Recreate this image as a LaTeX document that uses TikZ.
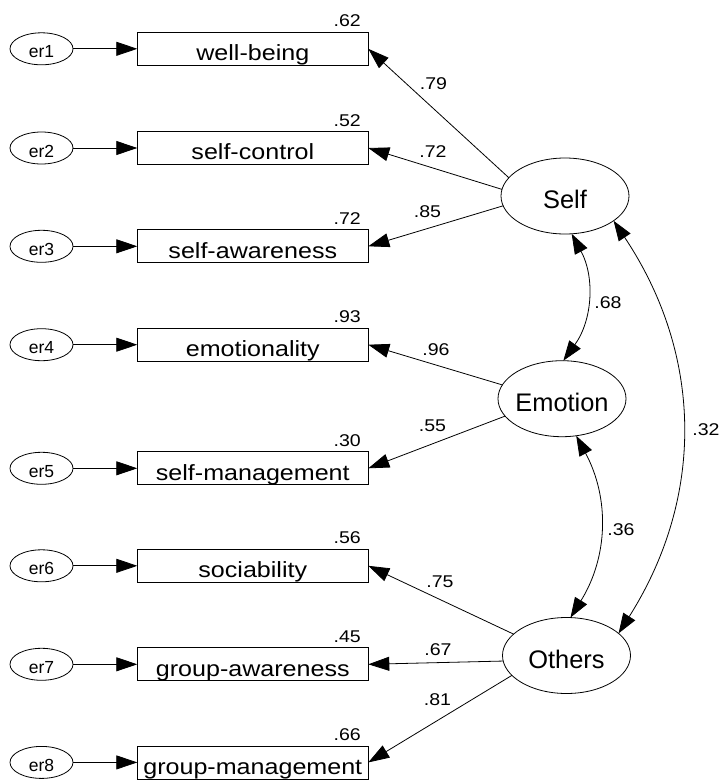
\documentclass[tikz,border=0pt]{standalone}
\usepackage{fontspec}
\setmainfont{Liberation Sans}
\newfontfamily\boxfont[FakeStretch=1.14]{Liberation Sans}
\newfontfamily\numfont[FakeStretch=1.15]{Liberation Sans}
\usetikzlibrary{arrows.meta,shapes.geometric}
\begin{document}
\begin{tikzpicture}[x=1pt,y=-1pt,
  every node/.style={inner sep=0pt, outer sep=0pt},
  obs/.style={draw, line width=0.8pt, minimum width=231pt, minimum height=33pt,
    text height=23.8pt, text depth=0pt, font=\boxfont\fontsize{22}{22}\selectfont},
  lat/.style={ellipse, draw, line width=0.8pt, minimum width=128pt, minimum height=76pt,
    text height=25pt, text depth=0pt, font=\fontsize{25.4}{25.4}\selectfont},
  err/.style={ellipse, draw, line width=0.8pt, minimum width=63pt, minimum height=32pt,
    text height=18pt, text depth=0pt, font=\fontsize{17.5}{17.5}\selectfont},
  num/.style={font=\numfont\fontsize{17}{17}\selectfont},
  load/.style={line width=0.8pt, -{Triangle[length=21pt,width=14pt]}},
  cov/.style={line width=0.8pt, {Triangle[length=20pt,width=14pt]}-{Triangle[length=20pt,width=14pt]}}
]
\useasboundingbox (0,0) rectangle (721,782);

% observed variables
\node[obs] (wb)  at (252.8,48.8)  {well-being};
\node[obs] (sc)  at (252.8,148)   {self-control};
\node[obs] (sa)  at (252.8,246.3) {self-awareness};
\node[obs] (em)  at (252.8,344.7) {emotionality};
\node[obs] (sm)  at (252.8,468.3) {self-management};
\node[obs] (so)  at (252.8,565.8) {sociability};
\node[obs] (ga)  at (252.8,664.3) {group-awareness};
\node[obs] (gm)  at (252.8,762.4) {group-management};

% error terms
\node[err] (e1) at (41.5,48.8)  {er1};
\node[err] (e2) at (41.5,148)   {er2};
\node[err] (e3) at (41.5,246.3) {er3};
\node[err] (e4) at (41.5,344.7) {er4};
\node[err] (e5) at (41.5,468.3) {er5};
\node[err] (e6) at (41.5,565.8) {er6};
\node[err] (e7) at (41.5,664.3) {er7};
\node[err] (e8) at (41.5,762.4) {er8};

% latent variables
\node[lat] (Self)    at (565,196)     {\makebox[0pt]{Self}};
\node[lat] (Emotion) at (562,398.7)   {\makebox[0pt]{Emotion}};
\node[lat] (Others)  at (566.5,655.5) {\makebox[0pt]{Others}};

% error arrows
\foreach \e/\o in {e1/wb,e2/sc,e3/sa,e4/em,e5/sm,e6/so,e7/ga,e8/gm}
  \draw[load] (\e) -- (\o);

% loadings
\draw[load] (Self.162.8) -- (wb.east);
\draw[load] (Self.174.6) -- (sc.east);
\draw[load] (Self.189) -- (sa.east);
\draw[load] (Emotion.167.5) -- (em.east);
\draw[load] (Emotion.197) -- (sm.east);
\draw[load] (Others.158.5) -- (so.east);
\draw[load] (Others.185.8) -- (ga.east);
\draw[load] (Others.200) -- (gm.east);

% covariances
\draw[cov] (Self.280) to[bend left=32] (Emotion.88.5);
\draw[cov] (Emotion.291.5) to[bend left=30] (Others.84.8);
\draw[cov] (Self.333.4) to[bend left=33] (Others.23.6);

% squared multiple correlations
\node[num, anchor=base east] at ([xshift=-7.5pt,yshift=5.5pt]wb.north east) {.62};
\node[num, anchor=base east] at ([xshift=-7.5pt,yshift=5.5pt]sc.north east) {.52};
\node[num, anchor=base east] at ([xshift=-7.5pt,yshift=5.5pt]sa.north east) {.72};
\node[num, anchor=base east] at ([xshift=-7.5pt,yshift=5.5pt]em.north east) {.93};
\node[num, anchor=base east] at ([xshift=-7.5pt,yshift=5.5pt]sm.north east) {.30};
\node[num, anchor=base east] at ([xshift=-7.5pt,yshift=5.5pt]so.north east) {.56};
\node[num, anchor=base east] at ([xshift=-7.5pt,yshift=5.5pt]ga.north east) {.45};
\node[num, anchor=base east] at ([xshift=-7.5pt,yshift=5.5pt]gm.north east) {.66};

% loading labels
\node[num] (l1) at (433.5,83.5)  {.79};
\node[num] (l2) at (433,151.5)   {.72};
\node[num] (l3) at (427.5,211.5) {.85};
\node[num] (l4) at (436,350)     {.96};
\node[num] (l5) at (432.5,425.5) {.55};
\node[num] (l6) at (440,581.5)   {.75};
\node[num] (l7) at (438,650)     {.67};
\node[num] (l8) at (437.5,700)   {.81};

% covariance labels
\node[num] (c1) at (608,303) {.68};
\node[num] (c2) at (621,530) {.36};
\node[num] (c3) at (706,430) {.32};
\end{tikzpicture}
\end{document}
